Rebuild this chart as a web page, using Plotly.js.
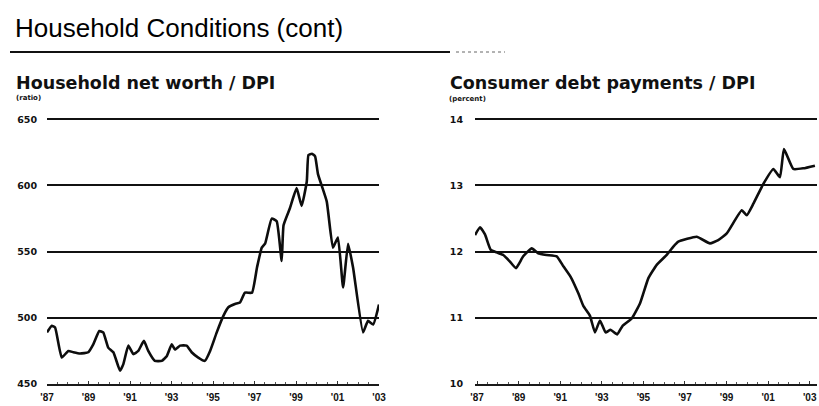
<!DOCTYPE html>
<html>
<head>
<meta charset="utf-8">
<script src="https://cdn.plot.ly/plotly-3.0.1.min.js"></script>
<style>html,body{margin:0;padding:0;background:#fff;}#chart{width:819px;height:406px;}</style>
</head>
<body>
<div id="chart"></div>
<script>
// Household net worth / DPI (ratio)
const nwYears = [1987.0,1987.23,1987.39,1987.71,1988.03,1988.27,1988.59,1988.99,1989.23,1989.52,1989.71,1989.95,1990.20,1990.52,1990.68,1990.92,1991.16,1991.40,1991.67,1991.88,1992.20,1992.53,1992.77,1993.01,1993.17,1993.41,1993.73,1993.97,1994.29,1994.61,1994.86,1995.18,1995.50,1995.74,1996.06,1996.30,1996.54,1996.88,1997.12,1997.35,1997.51,1997.83,1998.07,1998.31,1998.40,1998.71,1999.03,1999.27,1999.52,1999.60,1999.77,1999.92,2000.06,2000.48,2000.78,2001.02,2001.27,2001.51,2001.75,2002.23,2002.47,2002.72,2003.0];
const nwValues = [489,494,492.7,470,475,474,473,474,480,490,489,477.5,474,460,465,479,472.6,475,482.6,475,467.5,467.5,471,480,476,479,479,474,470,467.5,475,489,501.5,508,510.5,511.6,519,519,538,553,556,575,573,543,570,583,598,584.6,603,623,624,622,608.6,588,553,560.7,523,556,538,489,497.7,495,510];

// Consumer debt payments / DPI (percent)
const cdYears = [1986.90,1987.14,1987.38,1987.65,1987.94,1988.26,1988.58,1988.87,1989.22,1989.63,1989.94,1990.35,1990.83,1991.15,1991.50,1991.87,1992.11,1992.43,1992.67,1992.91,1993.18,1993.42,1993.74,1994.00,1994.44,1994.84,1995.24,1995.64,1996.12,1996.44,1996.68,1997.56,1998.20,1998.60,1999.01,1999.73,1999.97,2000.29,2000.77,2001.25,2001.57,2001.76,2002.21,2002.69,2003.25];
const cdValues = [12.25,12.37,12.26,12.03,11.99,11.95,11.85,11.75,11.93,12.05,11.975,11.95,11.93,11.78,11.62,11.37,11.18,11.03,10.78,10.96,10.78,10.82,10.75,10.88,10.99,11.22,11.6,11.8,11.95,12.075,12.15,12.225,12.125,12.175,12.275,12.625,12.55,12.725,13.025,13.25,13.125,13.55,13.25,13.26,13.3];

const yearTicks = [1987,1989,1991,1993,1995,1997,1999,2001,2003];
const yearLabels = ["'87","'89","'91","'93","'95","'97","'99","'01","'03"];
const nwTicks = [450,500,550,600,650];
const cdTicks = [10,11,12,13,14];

const W = 819, H = 406;
const px = v => v / W;
const py = v => 1 - v / H;

const lineStyle = {color:'#0d0d0d', width:2.6, shape:'spline', smoothing:0.4};

const traces = [
  {x: nwYears, y: nwValues, type:'scatter', mode:'lines', line: lineStyle, xaxis:'x', yaxis:'y', hoverinfo:'skip'},
  {x: cdYears, y: cdValues, type:'scatter', mode:'lines', line: lineStyle, xaxis:'x2', yaxis:'y2', hoverinfo:'skip'}
];

const xCommon = {
  tickmode:'array', tickvals: yearTicks, ticktext: yearLabels,
  tickfont:{family:'Liberation Sans, Arial', size:10, color:'#111', weight:'bold'},
  ticklabelstandoff: 3,
  showgrid:false, zeroline:false, showline:true, linecolor:'#1a1a1a', linewidth:1.6,
  ticks:'inside', ticklen:3, tickwidth:1, tickcolor:'#333',
  minor:{dtick:0.5, tick0:1987, ticks:'inside', ticklen:2, tickcolor:'#555', tickwidth:1, showgrid:false},
  fixedrange:true
};
const yCommon = {
  tickmode:'array', showgrid:true, gridcolor:'#111', gridwidth:2,
  zeroline:false, showline:false, ticks:'',
  tickfont:{family:'DejaVu Sans', size:9.5, color:'#111', weight:'bold'},
  ticklabelstandoff: 9, fixedrange:true
};

const layout = {
  width: W, height: H,
  margin:{l:0, r:0, t:0, b:0},
  paper_bgcolor:'#fff', plot_bgcolor:'#fff',
  showlegend:false,
  xaxis: Object.assign({}, xCommon, {domain:[px(47), px(379)], range:[1987, 2003], anchor:'y'}),
  yaxis: Object.assign({}, yCommon, {domain:[1-384/H, 1-118/H], range:[450, 651], tickvals: nwTicks, anchor:'x'}),
  xaxis2: Object.assign({}, xCommon, {domain:[px(475), px(817)], range:[1986.9, 2003.35], anchor:'y2'}),
  yaxis2: Object.assign({}, yCommon, {domain:[1-384/H, 1-118/H], range:[10, 14.02], tickvals: cdTicks, anchor:'x2', ticklabelstandoff: 11}),
  annotations: [
    {text:'Household Conditions (cont)', xref:'paper', yref:'paper', x:px(13), y:py(28), xanchor:'left', yanchor:'middle', showarrow:false,
     font:{family:'Liberation Sans, Arial', size:26, color:'#000'}},
    {text:'Household net worth / DPI', xref:'paper', yref:'paper', x:px(14), y:py(83), xanchor:'left', yanchor:'middle', showarrow:false,
     font:{family:'DejaVu Sans', size:17.5, color:'#111', weight:'bold'}},
    {text:'(ratio)', xref:'paper', yref:'paper', x:px(14), y:py(98), xanchor:'left', yanchor:'middle', showarrow:false,
     font:{family:'DejaVu Sans', size:7, color:'#111', weight:'bold'}},
    {text:'Consumer debt payments / DPI', xref:'paper', yref:'paper', x:px(448), y:py(83), xanchor:'left', yanchor:'middle', showarrow:false,
     font:{family:'DejaVu Sans', size:17.5, color:'#111', weight:'bold'}},
    {text:'(percent)', xref:'paper', yref:'paper', x:px(447), y:py(99), xanchor:'left', yanchor:'middle', showarrow:false,
     font:{family:'DejaVu Sans', size:7, color:'#111', weight:'bold'}}
  ],
  shapes: [
    {type:'line', xref:'paper', yref:'paper', x0:px(10), x1:px(450), y0:py(52), y1:py(52), line:{color:'#111', width:2}},
    {type:'line', xref:'paper', yref:'paper', x0:px(456), x1:px(505), y0:py(52), y1:py(52), line:{color:'#666', width:1, dash:'dot'}}
  ]
};

Plotly.newPlot('chart', traces, layout, {staticPlot:true, displayModeBar:false});
</script>
</body>
</html>
